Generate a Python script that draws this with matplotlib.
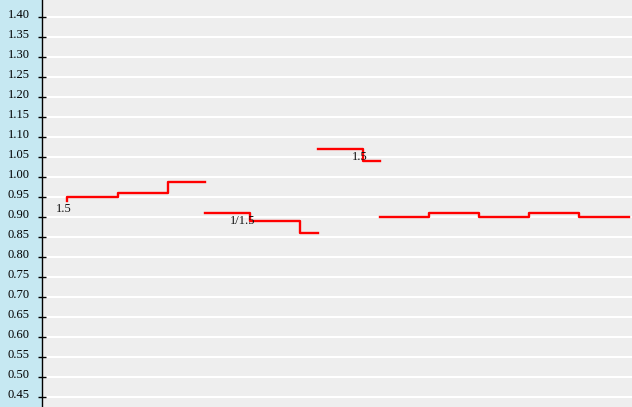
import matplotlib.pyplot as plt
from matplotlib.transforms import ScaledTranslation

# step groups: x positions (time slots) and values, drawn as steps-pre
g1_x = [0.50, 1.52, 2.52, 3.26]
g1_y = [0.94, 0.95, 0.96, 0.988]
g2_x = [3.26, 4.16, 5.16, 5.52]
g2_y = [0.91, 0.91, 0.89, 0.86]
g3_x = [5.52, 6.42, 6.76]
g3_y = [1.07, 1.07, 1.04]
g4_x = [6.76, 7.74, 8.74, 9.74, 10.74, 11.74]
g4_y = [0.90, 0.90, 0.91, 0.90, 0.91, 0.90]

groups = [(g1_x, g1_y), (g2_x, g2_y), (g3_x, g3_y), (g4_x, g4_y)]

# annotations
note_text = ["1.5", "1/1.5", "1.5"]
note_x = [0.44, 4.02, 6.35]
note_y = [0.921, 0.889, 1.050]

yticks = [0.45 + 0.05 * i for i in range(20)]

plt.rcParams["font.family"] = ["Liberation Serif", "DejaVu Serif"]

fig = plt.figure(figsize=(6.32, 4.07), dpi=100, facecolor="#C6E8F2")
ax = fig.add_axes([42 / 632, 0, 1 - 42 / 632, 1])
ax.set_facecolor("#EEEEEE")

for gx, gy in groups:
    ax.plot(gx, gy, drawstyle="steps-pre", color="#FF0000", lw=1.7, zorder=3)

for t, x, y in zip(note_text, note_x, note_y):
    ax.text(x, y, t, fontsize=9, ha="center", va="center", color="#111111", zorder=4)

ax.set_xlim(0, 11.8)
ax.set_ylim(0.425, 1.4425)
ax.set_yticks(yticks)
ax.set_yticklabels([f"{v:.2f}" for v in yticks])
ax.set_xticks([])
ax.grid(axis="y", color="white", lw=1.5)
ax.set_axisbelow(True)
ax.tick_params(axis="y", direction="inout", length=6, width=1, pad=6, labelsize=9)
for lab in ax.get_yticklabels():
    lab.set_transform(lab.get_transform() + ScaledTranslation(0, 0.03, fig.dpi_scale_trans))

for s in ["top", "right", "bottom"]:
    ax.spines[s].set_visible(False)
ax.spines["left"].set_color("black")
ax.spines["left"].set_linewidth(1)

fig.savefig("out.png", dpi=100, facecolor=fig.get_facecolor())
